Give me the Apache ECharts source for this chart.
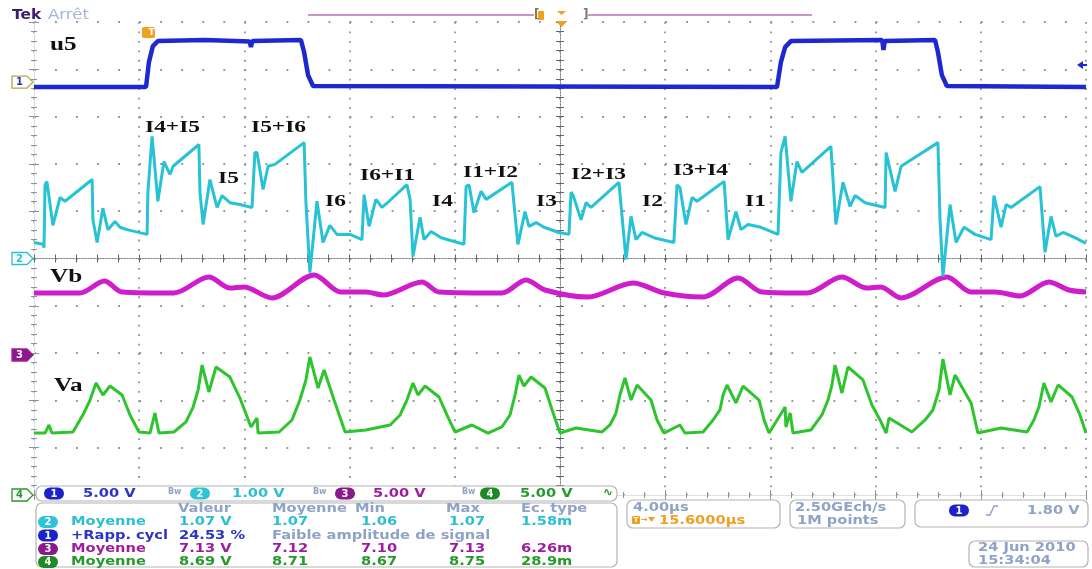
<!DOCTYPE html>
<html><head><meta charset="utf-8">
<script src="https://cdn.jsdelivr.net/npm/echarts@6/dist/echarts.min.js"></script>
<style>html,body{margin:0;padding:0;background:#fff}#c{width:1092px;height:569px}</style>
</head><body><div id="c"></div>
<script>
// ---------- DATA (time in µs, voltage in V) ----------
const timeRange = [0, 40];        // 10 divisions x 4 µs/div
const timePerDiv = 4;
const voltsPerDiv = [5, 1, 5, 5];          // ch1..ch4
const groundDiv = [8.73, 5, 2.96, 0];      // channel position, divisions from bottom

// ch1 : u5 gate signal
const u5 = [[0,-0.53],[4.26,-0.53],[4.37,2.11],[4.52,3.81],[4.71,4.33],[6.5,4.44],[8.2,4.3],[8.25,3.7],[8.3,4.35],[10.15,4.44],[10.27,3.17],[10.42,0.74],[10.61,-0.42],[28.25,-0.53],[28.40,2.11],[28.56,3.70],[28.78,4.33],[32.25,4.44],[32.3,3.4],[32.35,4.35],[34.26,4.44],[34.37,3.17],[34.52,0.74],[34.71,-0.42],[40,-0.53]];

// ch2 : sum of phase currents
const iSum = [[0,0.34],[0.34,0.30],[0.38,0.23],[0.42,1.56],[0.49,1.63],[0.72,0.70],[0.99,1.29],[1.18,1.21],[2.21,1.67],[2.24,0.82],[2.40,0.34],[2.62,1.06],[2.81,0.61],[3.08,0.78],[3.27,0.66],[3.54,0.61],[4.30,0.51],[4.33,1.40],[4.49,2.58],[4.71,1.21],[4.94,2.05],[5.17,1.78],[5.29,1.95],[6.27,2.41],[6.31,1.40],[6.43,0.72],[6.69,1.67],[6.96,1.08],[7.15,1.33],[7.45,1.18],[7.83,1.14],[8.29,1.08],[8.40,2.24],[8.48,2.24],[8.71,1.46],[8.90,1.95],[9.16,1.99],[10.27,2.45],[10.34,1.18],[10.49,-0.30],[10.76,1.21],[10.99,0.34],[11.25,0.70],[11.52,0.51],[12.02,0.51],[12.47,0.40],[12.55,1.35],[12.74,0.68],[13.00,1.25],[13.23,1.08],[13.50,1.21],[14.18,1.56],[14.30,1.25],[14.41,0.04],[14.68,0.87],[14.83,0.40],[15.10,0.57],[15.48,0.44],[16.35,0.30],[16.43,1.52],[16.54,1.56],[16.73,0.97],[17.00,1.42],[17.19,1.25],[18.17,1.61],[18.40,0.30],[18.67,0.99],[18.82,0.68],[19.09,0.76],[19.39,0.66],[19.96,0.55],[20.34,0.51],[20.42,1.40],[20.49,1.35],[20.80,0.82],[20.99,1.18],[21.18,1.08],[22.24,1.61],[22.51,-0.02],[22.70,0.89],[22.89,0.40],[23.12,0.55],[23.57,0.44],[24.33,0.34],[24.45,1.56],[24.56,1.50],[24.79,0.72],[25.02,1.29],[25.21,1.21],[26.24,1.63],[26.39,0.40],[26.69,0.99],[26.88,0.61],[27.15,0.72],[27.64,0.66],[28.29,0.51],[28.40,2.24],[28.56,2.58],[28.78,1.21],[29.01,2.05],[29.20,1.82],[30.30,2.37],[30.49,0.72],[30.76,1.61],[31.03,1.10],[31.22,1.33],[31.60,1.18],[32.36,1.08],[32.40,2.24],[32.47,2.20],[32.74,1.42],[32.97,1.95],[34.37,2.45],[34.45,0.82],[34.56,-0.38],[34.83,1.14],[35.06,0.34],[35.36,0.66],[35.78,0.51],[36.39,0.40],[36.50,1.33],[36.77,0.66],[36.96,1.14],[37.15,1.08],[38.25,1.52],[38.44,0.13],[38.67,0.89],[38.86,0.47],[39.13,0.55],[39.58,0.44],[40,0.32]];

// ch3 : Vb
const vb = [[0,6.55],[1.75,6.55],[2.68,7.82],[3.35,6.66],[5.32,6.55],[6.65,8.25],[7.45,7.08],[7.98,7.19],[9.05,6.03],[10.65,8.46],[11.67,6.66],[12.62,6.66],[13.27,6.34],[14.75,7.72],[15.40,6.66],[17.79,6.55],[18.71,7.93],[19.43,6.87],[21.06,6.13],[22.78,7.61],[23.97,6.55],[25.44,6.13],[26.77,8.14],[27.68,6.66],[29.39,6.55],[30.72,8.25],[31.65,7.08],[32.19,7.19],[32.97,6.03],[34.71,8.25],[35.63,6.66],[36.54,6.66],[37.49,6.24],[38.59,7.72],[39.35,6.87],[40,6.66]];

// ch4 : Va
const va = [[0,6.55],[0.42,6.55],[0.57,7.40],[0.68,6.55],[1.48,6.66],[1.90,8.67],[2.13,10.04],[2.36,11.84],[2.62,10.57],[2.89,11.52],[3.35,10.57],[3.65,8.46],[3.99,6.66],[4.41,6.55],[4.60,8.67],[4.75,6.55],[5.32,6.66],[5.78,7.72],[6.05,9.30],[6.24,11.1],[6.39,13.74],[6.65,10.89],[6.92,13.53],[7.45,12.47],[7.83,10.25],[8.25,7.19],[8.48,8.14],[8.52,6.55],[9.32,6.66],[9.81,7.93],[10.11,10.04],[10.34,12.16],[10.49,14.59],[10.80,11.31],[11.03,13.21],[11.41,10.04],[11.83,6.66],[12.62,6.87],[13.54,7.40],[13.92,8.46],[14.18,10.04],[14.41,11.84],[14.60,10.57],[14.87,11.52],[15.40,10.36],[15.70,8.46],[16.01,6.66],[16.65,7.40],[17.26,6.55],[17.79,7.19],[18.10,8.46],[18.29,10.57],[18.44,12.68],[18.63,11.52],[18.90,12.47],[19.43,11.31],[19.70,8.99],[20.00,6.55],[20.61,7.08],[21.60,6.66],[21.90,7.40],[22.13,8.67],[22.28,10.57],[22.47,12.37],[22.70,10.04],[22.93,11.63],[23.46,10.04],[23.69,7.93],[23.95,6.55],[24.56,7.40],[24.75,6.55],[25.44,6.66],[25.82,7.93],[26.08,8.99],[26.20,10.57],[26.35,11.63],[26.69,9.73],[26.96,11.52],[27.57,10.04],[27.76,7.93],[27.95,6.55],[28.56,9.30],[28.59,7.19],[28.75,8.67],[28.86,6.55],[29.54,6.87],[29.96,8.46],[30.19,10.04],[30.34,11.63],[30.46,13.74],[30.72,10.78],[30.95,13.53],[31.52,12.16],[31.86,9.51],[32.17,7.93],[32.40,6.55],[32.51,8.14],[33.38,6.66],[33.88,7.93],[34.18,8.99],[34.41,11.10],[34.56,14.38],[34.83,10.57],[35.02,12.68],[35.63,9.73],[35.89,6.55],[36.77,7.08],[37.76,6.66],[38.02,7.93],[38.21,9.30],[38.40,11.84],[38.67,9.83],[38.94,11.63],[39.47,10.36],[39.77,8.46],[40,6.55]];

const traceLabels = ['u5','Vb','Va'];
const phaseLabels = ['I4+I5','I5+I6','I5','I6','I6+I1','I4','I1+I2','I3','I2+I3','I2','I3+I4','I1'];
const scaleTexts = ['5.00 V','1.00 V','5.00 V','5.00 V'];
const measHeader = ['Valeur','Moyenne','Min','Max','Ec. type'];
const measRows = [
  ['2','Moyenne','1.07 V','1.07','1.06','1.07','1.58m'],
  ['1','+Rapp. cycl','24.53 %','Faible amplitude de signal'],
  ['3','Moyenne','7.13 V','7.12','7.10','7.13','6.26m'],
  ['4','Moyenne','8.69 V','8.71','8.67','8.75','28.9m']
];
const timeBase = ['4.00µs','15.6000µs'];
const acq = ['2.50GEch/s','1M points'];
const trigLevel = '1.80 V';
const dateStamp = ['24 Jun 2010','15:34:04'];

// ---------- LAYOUT / STYLE ----------
const GRID = {left:34, top:22, width:1052, height:473};
const divH = GRID.height/10, divW = GRID.width/10;
const chColor = ['#1d29cf','#27c3d4','#d01dcc','#2ec42e'];
const chText = ['#2a35c8','#2cbfd2','#a01c9f','#25992b'];
const pillColor = ['#1a22c8','#2ec4d6','#8a1a8a','#1f8a25'];
const grayTxt = '#8ea3c5', orange = '#f0a020';
const F = '"DejaVu Sans", Verdana, sans-serif';

const G = [];
function T(x, y, text, fill, o) {
  o = o || {};
  G.push({type:'text', x, y, scaleX: (o.sx===undefined?1.22:o.sx), z:60, silent:true,
    style:{text, fill, font:(o.w||'bold')+' '+(o.s||12)+'px '+(o.f||F),
      textAlign:o.a||'left', textVerticalAlign:'middle', align:o.a||'left', verticalAlign:'middle'}});
}
function R(x,y,w,h,r,fill,stroke,lw,z){
  G.push({type:'rect', z:z||40, silent:true, shape:{x,y,width:w,height:h,r}, style:{fill:fill||'#fff', stroke:stroke||null, lineWidth:lw||1}});
}
function P(points, fill, stroke, lw, z){
  G.push({type:'polygon', z:z||45, silent:true, shape:{points}, style:{fill:fill||'none', stroke:stroke||null, lineWidth:lw||1}});
}
function L(points, stroke, lw, z){
  G.push({type:'polyline', z:z||45, silent:true, shape:{points}, style:{stroke, lineWidth:lw||1, fill:null}});
}
function pill(cx, cy, num, fill){ R(cx-10, cy-6, 20, 12, 6, fill, null, 1, 55); T(cx, cy+0.5, num, '#fff', {a:'center', s:10, sx:1}); }
function chMarker(ch, num, filled, stroke2){
  const cy = GRID.top + (10-groundDiv[ch])*divH;
  P([[12,cy-6],[27,cy-6],[33,cy],[27,cy+6],[12,cy+6]], filled?pillColor[ch]:'#fff', stroke2||chText[ch], 1.3, 58);
  T(19.5, cy+0.5, num, filled?'#fff':chText[ch], {a:'center', s:10, sx:1});
}

// top bar
T(12, 15, 'Tek', '#3a1d6e', {s:14, sx:1.1});
T(48, 15, 'Arrêt', '#a3b6d6', {s:14, w:'normal', sx:1.18});
L([[308,15],[534,15]], '#b872b8', 1.5);
L([[588,15],[812,15]], '#b872b8', 1.5);
T(534, 15, '[', '#8a7a40', {s:12, sx:1});
R(538,11,6,9,1,orange,null,1,50);
P([[557,11],[566,11],[561.5,15]], orange, null);
T(583, 15, ']', '#777', {s:12, sx:1});
P([[555.5,21],[567.5,21],[561.5,27]], orange, null, 1, 58);
// trigger time marker
R(142,27,13,11,2,orange,null,1,58);
T(148.5, 32.5, 'T', '#fff', {s:9, sx:1});
// trigger level arrow (ch1, 1.80 V)
P([[1077,65],[1083,61],[1083,69]], chColor[0], null, 1, 58);
R(1083,64,4,2,0,chColor[0],null,1,58);

// channel ground markers
chMarker(0,'1',false,'#b8a640');
chMarker(1,'2',false);
chMarker(2,'3',true);
chMarker(3,'4',false);

// trace labels (Times bold)
const serif = '"Liberation Serif", "Times New Roman", serif';
const tlPos = [[50,45],[50,277],[54,386]];
traceLabels.forEach((t,i)=>T(tlPos[i][0], tlPos[i][1], t, '#111', {s:18, f:serif, sx:1.4}));
const plPos = [[145,128],[251,128],[218,179],[325,202],[360,176],[432,202],[463,173],[536,202],[571,175],[642,202],[673,171],[745,202]];
phaseLabels.forEach((t,i)=>T(plPos[i][0], plPos[i][1], t, '#111', {s:17, f:serif, sx:1.38}));

// bottom status row
R(36,486,581,15,6,'#fff','#b4b4b4',1.2,40);
const pillX = [54,200,345,490], scaleX0 = [83,232,373,520], bwX = [168,313,462];
for (let i=0;i<4;i++){ pill(pillX[i],493.5,String(i+1),pillColor[i]); T(scaleX0[i],493.5,scaleTexts[i],chText[i]); }
bwX.forEach(x=>T(x,492,'Bw',grayTxt,{s:8,sx:1}));
T(603,493,'∿','#25992b',{s:12,sx:1});

// measurement table
R(36,503,581,64,6,'#fff','#b4b4b4',1.2,40);
const colX = [178,272,355,446,521];
measHeader.forEach((h,i)=>T(colX[i],509,h,grayTxt));
const valX = [179,272,361,449,521];
const rowY = [522,535.5,549,562];
const rowCh = [1,0,2,3];
measRows.forEach((r,k)=>{
  const c = rowCh[k], y = rowY[k];
  pill(48,y,r[0],pillColor[c]);
  T(71,y,r[1],chText[c]);
  if (r.length===4){ T(valX[0],y,r[2],chText[c]); T(valX[1],y,r[3],grayTxt); }
  else for (let j=2;j<7;j++) T(valX[j-2],y,r[j],chText[c]);
});

// timebase box
R(627,500,153,28,6,'#fff','#b4b4b4',1.2,40);
T(633,507.5,timeBase[0],grayTxt);
R(632,516,8,8,1,orange,null,1,55);
T(636,520.5,'T','#fff',{s:7,sx:1,a:'center'});
T(641,520,'→',orange,{s:8,sx:1});
P([[648,517],[655,517],[651.5,522]],orange,null,1,55);
T(659,520.5,timeBase[1],orange);
// acquisition box
R(790,500,115,28,6,'#fff','#b4b4b4',1.2,40);
T(795,507.5,acq[0],grayTxt);
T(797,520.5,acq[1],grayTxt);
// trigger box
R(915,500,173,27,6,'#fff','#b4b4b4',1.2,40);
pill(959,510.5,'1',pillColor[0]);
L([[986,515],[990,515],[994,506],[998,506]],grayTxt,1.4,55);
T(1027,510.5,trigLevel,grayTxt);
// date box
R(969,541,119,26,6,'#fff','#b4b4b4',1.2,40);
T(978,548,dateStamp[0],grayTxt);
T(978,561,dateStamp[1],grayTxt);

// ---------- AXES ----------
const tickC = '#8d939c', frameC = '#d8e0ea', dotC = '#8f9398';
const xBase = {type:'value', min:timeRange[0], max:timeRange[1], interval:timePerDiv, axisLabel:{show:false}, splitLine:{show:false}};
const yBase = {type:'value', min:0, max:10, interval:1, axisLabel:{show:false}, splitLine:{show:false}};
const edgeTick = {inside:true, length:5, lineStyle:{color:tickC}};
const edgeMinor = {show:true, splitNumber:5, length:3, lineStyle:{color:tickC}};
const ctrTick = {inside:false, length:4, lineStyle:{color:'#666'}};
const ctrMinor = {show:true, splitNumber:5, length:4, lineStyle:{color:'#666'}};
const ctrLine = {show:true, lineStyle:{color:'#7a7a7a', width:1, type:[1,2]}};

const xAxis = [
  {...xBase, position:'bottom', axisLine:{lineStyle:{color:frameC}}, axisTick:edgeTick, minorTick:edgeMinor,
    splitLine:{show:true, lineStyle:{color:dotC, width:1.8, type:[1.8, divH/5-1.8]}}},
  {...xBase, position:'top', axisLine:{lineStyle:{color:frameC}}, axisTick:edgeTick, minorTick:edgeMinor},
  {...xBase, position:'bottom', offset:-GRID.height/2, axisLine:ctrLine, axisTick:ctrTick, minorTick:ctrMinor},
  {...xBase, position:'top', offset:-GRID.height/2, axisLine:ctrLine, axisTick:ctrTick, minorTick:ctrMinor}
];
const yAxis = [
  {...yBase, position:'left', axisLine:{lineStyle:{color:frameC}}, axisTick:edgeTick, minorTick:edgeMinor,
    splitLine:{show:true, lineStyle:{color:dotC, width:1.8, type:[1.8, divW/5-1.8]}}},
  {...yBase, position:'right', axisLine:{lineStyle:{color:frameC}}, axisTick:edgeTick, minorTick:edgeMinor},
  {...yBase, position:'left', offset:-GRID.width/2, axisLine:ctrLine, axisTick:ctrTick, minorTick:ctrMinor},
  {...yBase, position:'right', offset:-GRID.width/2, axisLine:ctrLine, axisTick:ctrTick, minorTick:ctrMinor}
];
// one hidden value axis per channel (its own V/div and position)
for (let c=0;c<4;c++){
  yAxis.push({type:'value', show:false, position:'left', min:-groundDiv[c]*voltsPerDiv[c], max:(10-groundDiv[c])*voltsPerDiv[c]});
}

const mk = (name, data, c, w, extra) => Object.assign({type:'line', name, data, xAxisIndex:0, yAxisIndex:4+c,
  showSymbol:false, symbol:'none', silent:true, animation:false, lineStyle:{color:chColor[c], width:w}, z:3}, extra||{});

const chart = echarts.init(document.getElementById('c'), null, {renderer:'canvas'});
chart.setOption({
  backgroundColor:'#ffffff',
  animation:false,
  grid:{left:GRID.left, top:GRID.top, width:GRID.width, height:GRID.height, containLabel:false},
  xAxis, yAxis,
  series:[
    mk('u5', u5, 0, 4.5),
    mk('Vb', vb, 2, 5, {smooth:0.3}),
    mk('Va', va, 3, 3),
    mk('I', iSum, 1, 3, {z:5})
  ],
  graphic:{elements:G}
});
</script></body></html>
